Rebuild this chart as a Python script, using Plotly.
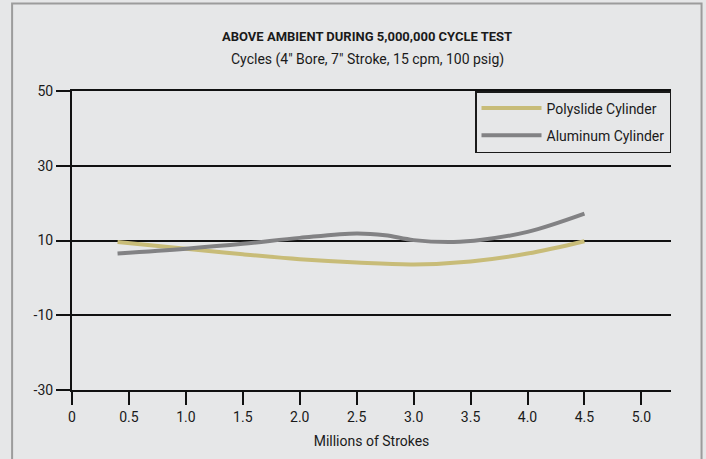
import plotly.graph_objects as go

# Millions of strokes
strokes_poly = [0.4, 1.0, 1.5, 2.0, 2.5, 3.0, 3.5, 4.0, 4.5]
temp_poly = [9.6, 7.8, 6.3, 5.0, 4.1, 3.6, 4.4, 6.5, 9.8]

strokes_alu = [0.4, 1.0, 1.5, 2.0, 2.5, 2.75, 3.0, 3.35, 3.6, 4.0, 4.5]
temp_alu = [6.5, 7.8, 9.1, 10.7, 11.9, 11.4, 10.1, 9.6, 10.2, 12.3, 17.2]

x_ticks = [0, 0.5, 1.0, 1.5, 2.0, 2.5, 3.0, 3.5, 4.0, 4.5, 5.0]
x_labels = ['0', '0.5', '1.0', '1.5', '2.0', '2.5', '3.0', '3.5', '4.0', '4.5', '5.0']
y_ticks = [-30, -10, 10, 30, 50]
y_labels = ['-30', '-10', '10', '30', '50']

FONT = 'Roboto, Lato, sans-serif'
BG = '#e6e7e8'

fig = go.Figure()

fig.add_trace(go.Scatter(
    name='Polyslide Cylinder',
    legendgroup='poly',
    x=strokes_poly,
    y=temp_poly,
    mode='lines',
    line=dict(color='#c8bc78', width=4, shape='spline', smoothing=1.0),
))
fig.add_trace(go.Scatter(
    name='Aluminum Cylinder',
    legendgroup='alu',
    x=strokes_alu,
    y=temp_alu,
    mode='lines',
    line=dict(color='#828284', width=4, shape='spline', smoothing=1.0),
))

fig.update_layout(
    width=706,
    height=459,
    margin=dict(l=72, r=35, t=91, b=66),
    paper_bgcolor=BG,
    plot_bgcolor=BG,
    font=dict(family=FONT, size=13, color='#1a1a1a'),
    showlegend=True,
    legend=dict(
        x=1, y=1, xanchor='right', yanchor='top',
        bgcolor=BG, bordercolor='#1a1a1a', borderwidth=1.5,
        font=dict(size=14),
        itemwidth=60,
        tracegroupgap=6,
    ),
    annotations=[
        dict(text='<b>ABOVE AMBIENT DURING 5,000,000 CYCLE TEST</b>',
             x=0.4925, y=1.215, xref='paper', yref='paper',
             showarrow=False, font=dict(size=13)),
        dict(text='Cycles (4" Bore, 7" Stroke, 15 cpm, 100 psig)',
             x=0.4925, y=1.14, xref='paper', yref='paper',
             showarrow=False, font=dict(size=14)),
    ],
    shapes=[
        dict(type='rect', xref='paper', yref='paper',
             x0=-0.1, x1=1.051, y0=-0.3, y1=1.293,
             line=dict(color='#9c9c9c', width=2), layer='above'),
    ],
)

fig.update_xaxes(
    range=[0, 5.26],
    tickvals=x_ticks,
    ticktext=x_labels,
    tickfont=dict(size=14),
    ticks='outside', ticklen=13, tickwidth=2, tickcolor='#111',
    showline=True, linecolor='#111', linewidth=2, mirror=True,
    showgrid=False, zeroline=False,
    title=dict(text='Millions of Strokes', font=dict(size=14), standoff=12),
)
fig.update_yaxes(
    range=[-30, 50],
    tickvals=y_ticks,
    ticktext=y_labels,
    tickfont=dict(size=14),
    ticks='outside', ticklen=14, tickwidth=2, tickcolor='#111',
    showline=True, linecolor='#111', linewidth=2,
    showgrid=True, gridcolor='#111', gridwidth=2,
    zeroline=False,
)

# page has an 8px default body margin, drop it so the figure fills the window
fig.write_html("out.html", config={'displayModeBar': False},
               post_script="document.body.style.margin='0';")
